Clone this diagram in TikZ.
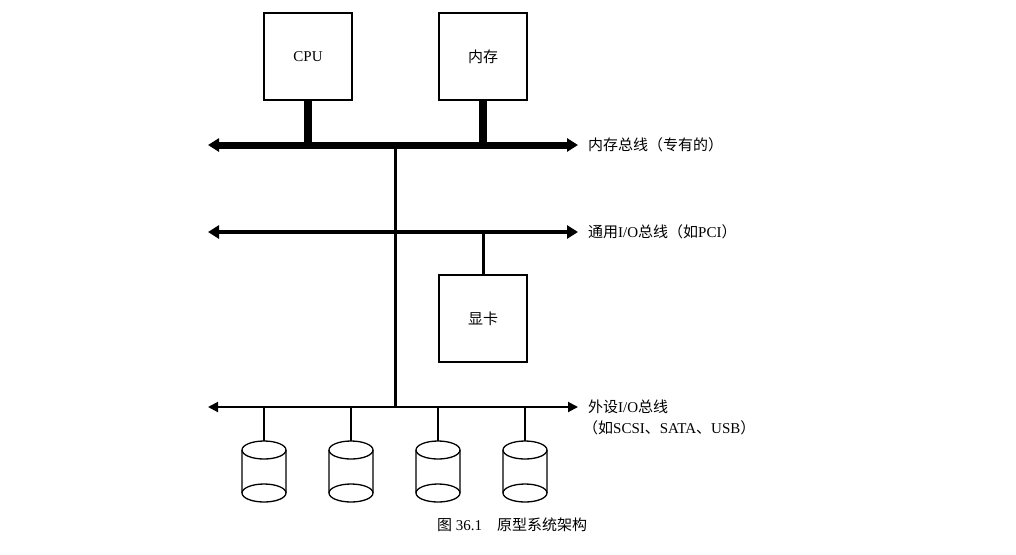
\documentclass[tikz,border=0pt]{standalone}
\usepackage{fontspec}
\setmainfont{Liberation Serif}
\newfontfamily\cjk{Noto Sans CJK SC}
\usetikzlibrary{arrows.meta}
\begin{document}
\begin{tikzpicture}[x=1pt,y=-1pt,
  box/.style={draw,line width=1.5pt,minimum width=88pt,minimum height=87pt,inner sep=0pt,font=\fontsize{15}{18}\selectfont},
  lab/.style={anchor=west,inner sep=0pt,font=\fontsize{15}{18}\selectfont},
  bus/.style={{Triangle[length=11pt,width=13pt]}-{Triangle[length=11pt,width=13pt]}},
  disk/.style={line width=1.3pt}]
\useasboundingbox (0,0) rectangle (1016,554);
\node[box] (cpu) at (308,56.5) {CPU};
\node[box] (mem) at (483,56.5) {\cjk 内存};
\node[box] (gpu) at (483,318.5) {\cjk 显卡};
\coordinate (m1) at (208,145); \coordinate (m2) at (578,145);
\coordinate (i1) at (208,232); \coordinate (i2) at (578,232);
\coordinate (p1) at (208,407); \coordinate (p2) at (578,407);
\draw[bus,line width=7pt] (m1) -- (m2);
\draw[bus,line width=4pt] (i1) -- (i2);
\draw[{Triangle[length=10pt,width=10pt]}-{Triangle[length=10pt,width=10pt]},line width=2pt] (p1) -- (p2);
\draw[line width=8pt] (cpu.south) -- (cpu.south |- m1);
\draw[line width=8pt] (mem.south) -- (mem.south |- m1);
\coordinate (v1) at (395,145); \coordinate (v2) at (395,407);
\draw[line width=3pt] (v1) -- (v2);
\draw[line width=3pt] (gpu.north |- i1) -- (gpu.north);
\node[lab] (lm) at (588,145) {\cjk 内存总线（专有的）};
\node[lab] (li) at (588,232) {\cjk 通用\rmfamily I/O\cjk 总线（如\rmfamily PCI\cjk ）};
\node[lab] (lp) at (588,407) {\cjk 外设\rmfamily I/O\cjk 总线};
\node[lab] (lp2) at (583,428) {\cjk （如\rmfamily SCSI\cjk 、\rmfamily SATA\cjk 、\rmfamily USB\cjk ）};
\foreach \x/\n in {264/d1,351/d2,438/d3,525/d4}{
  \coordinate (\n t) at (\x,441);
  \draw[line width=1.5pt] (\x,407) -- (\n t);
  \draw[disk] (\x,450) ellipse (22pt and 9pt);
  \draw[disk] (\x-22,450) -- (\x-22,493) arc[start angle=180,end angle=360,x radius=22pt,y radius=9pt] -- (\x+22,450);
  \draw[disk] (\x-22,493) arc[start angle=180,end angle=0,x radius=22pt,y radius=9pt];
}
\node[font=\fontsize{15}{18}\selectfont] (cap) at (512,525) {{\cjk 图} 36.1\quad{\cjk 原型系统架构}};
\end{tikzpicture}
\end{document}
